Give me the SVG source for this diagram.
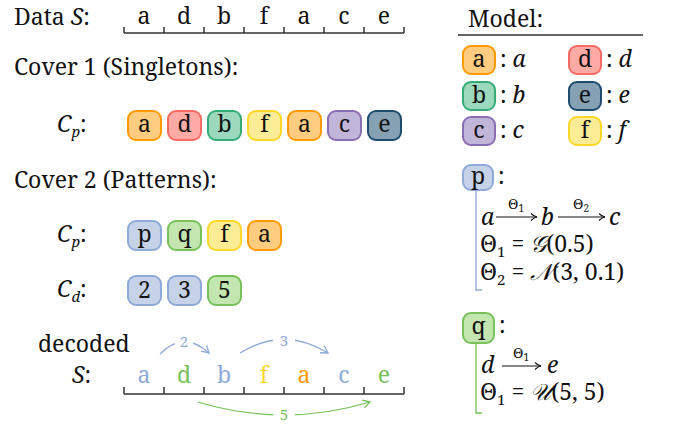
<svg xmlns="http://www.w3.org/2000/svg" width="678" height="424" viewBox="0 0 678 424" font-family="'Noto Serif','DejaVu Serif',serif">
<style>
text{font-family:'Noto Serif','DejaVu Serif',serif;fill:#111}
.t{font-size:23px}
.b{font-size:23px;text-anchor:middle}
.s{font-size:23px;text-anchor:middle}
.i{font-style:italic}
.sub{font-size:15px}
.ax{stroke:#333;stroke-width:1.5;fill:none}
.sm{font-size:15px}
.th{font-size:14px;text-anchor:middle}
.bx{stroke-width:2}
.oa{fill:#ffcc80;stroke:#ff9a00}
.od{fill:#ffaaa5;stroke:#f56a62}
.ob{fill:#9cd8bb;stroke:#35ab76}
.of{fill:#fcec95;stroke:#fbd727}
.oc{fill:#c1b5d9;stroke:#8a6eb3}
.oe{fill:#86a1b3;stroke:#1c4d6e}
.op{fill:#c5d2e8;stroke:#8eaad8}
.oq{fill:#c3e5b0;stroke:#77c159}
.cb{fill:#8eaad8}.cg{fill:#77c159}.cy{fill:#f7d72a}.co{fill:#ff9a00}
.lb{stroke:#8eaad8;stroke-width:1.3;fill:none}
.lg{stroke:#77c159;stroke-width:1.3;fill:none}
.ar{stroke:#111;stroke-width:1.2;fill:none}
</style>
<defs>
<marker id="mb" markerWidth="10" markerHeight="10" refX="8" refY="5" orient="auto" markerUnits="userSpaceOnUse"><path d="M1,1 L8,5 L1,9" fill="none" stroke="#8eaad8" stroke-width="1.3"/></marker>
<marker id="mg" markerWidth="10" markerHeight="10" refX="8" refY="5" orient="auto" markerUnits="userSpaceOnUse"><path d="M1,1 L8,5 L1,9" fill="none" stroke="#77c159" stroke-width="1.3"/></marker>
<marker id="mk" markerWidth="10" markerHeight="10" refX="8" refY="5" orient="auto" markerUnits="userSpaceOnUse"><path d="M2,1.5 Q5,4.5 8,5 Q5,5.5 2,8.5" fill="none" stroke="#111" stroke-width="1.1"/></marker>
</defs>

<g id="data">
<text class="t" x="14" y="25">Data <tspan class="i">S</tspan>:</text>
<path class="ax" d="M124,33 H404 M124,27 V33 M164,27 V33 M204,27 V33 M244,27 V33 M284,27 V33 M324,27 V33 M364,27 V33 M404,27 V33"/>
<text class="s" x="144" y="24">a</text><text class="s" x="184" y="24">d</text><text class="s" x="224" y="24">b</text><text class="s" x="264" y="24">f</text><text class="s" x="304" y="24">a</text><text class="s" x="344" y="24">c</text><text class="s" x="384" y="24">e</text>
</g>

<g id="cover1">
<text class="t" x="14" y="75">Cover 1 (Singletons):</text>
<text class="t" x="57" y="132"><tspan class="i">C</tspan><tspan class="sub i" dy="5">p</tspan><tspan dy="-5">:</tspan></text>
<rect class="bx oa" x="128" y="111" width="33" height="29" rx="8"/><text class="b" x="144.5" y="132">a</text>
<rect class="bx od" x="168" y="111" width="33" height="29" rx="8"/><text class="b" x="184.5" y="132">d</text>
<rect class="bx ob" x="208" y="111" width="33" height="29" rx="8"/><text class="b" x="224.5" y="132">b</text>
<rect class="bx of" x="248" y="111" width="33" height="29" rx="8"/><text class="b" x="264.5" y="132">f</text>
<rect class="bx oa" x="288" y="111" width="33" height="29" rx="8"/><text class="b" x="304.5" y="132">a</text>
<rect class="bx oc" x="328" y="111" width="33" height="29" rx="8"/><text class="b" x="344.5" y="132">c</text>
<rect class="bx oe" x="368" y="111" width="33" height="29" rx="8"/><text class="b" x="384.5" y="132">e</text>
</g>

<g id="cover2">
<text class="t" x="14" y="188">Cover 2 (Patterns):</text>
<text class="t" x="57" y="242"><tspan class="i">C</tspan><tspan class="sub i" dy="5">p</tspan><tspan dy="-5">:</tspan></text>
<rect class="bx op" x="128" y="221" width="33" height="29" rx="8"/><text class="b" x="144.5" y="242">p</text>
<rect class="bx oq" x="168" y="221" width="33" height="29" rx="8"/><text class="b" x="184.5" y="242">q</text>
<rect class="bx of" x="208" y="221" width="33" height="29" rx="8"/><text class="b" x="224.5" y="242">f</text>
<rect class="bx oa" x="248" y="221" width="33" height="29" rx="8"/><text class="b" x="264.5" y="242">a</text>
<text class="t" x="57" y="297"><tspan class="i">C</tspan><tspan class="sub i" dy="5">d</tspan><tspan dy="-5">:</tspan></text>
<rect class="bx op" x="128" y="276" width="33" height="29" rx="8"/><text class="b" x="144.5" y="298">2</text>
<rect class="bx op" x="168" y="276" width="33" height="29" rx="8"/><text class="b" x="184.5" y="298">3</text>
<rect class="bx oq" x="208" y="276" width="33" height="29" rx="8"/><text class="b" x="224.5" y="298">5</text>
</g>

<g id="decoded">
<text class="t" x="38" y="352">decoded</text>
<text class="t" x="72" y="383"><tspan class="i">S</tspan>:</text>
<path class="ax" d="M124,394 H404 M124,387 V394 M164,387 V394 M204,387 V394 M244,387 V394 M284,387 V394 M324,387 V394 M364,387 V394 M404,387 V394"/>
<text class="s cb" x="144" y="383">a</text><text class="s cg" x="184" y="383">d</text><text class="s cb" x="224" y="383">b</text><text class="s cy" x="264" y="383">f</text><text class="s co" x="304" y="383">a</text><text class="s cb" x="344" y="383">c</text><text class="s cg" x="384" y="383">e</text>
</g>

<g id="connectors">
<path class="lb" d="M160,354 Q184,330 209,353" marker-end="url(#mb)"/>
<rect x="175" y="333" width="18" height="18" fill="#fff"/>
<text class="sm cb" x="184" y="347" text-anchor="middle">2</text>
<path class="lb" d="M240,353 Q284,326 328,353" marker-end="url(#mb)"/>
<rect x="273" y="332" width="22" height="18" fill="#fff"/>
<text class="sm cb" x="284" y="346" text-anchor="middle">3</text>
<path class="lg" d="M198,402 Q284,428 370,402" marker-end="url(#mg)"/>
<rect x="273" y="406" width="22" height="16" fill="#fff"/>
<text class="sm cg" x="284" y="420" text-anchor="middle">5</text>
</g>

<g id="model">
<text class="t" x="468" y="27">Model:</text>
<path class="ax" d="M458,35 H643"/>
<rect class="bx oa" x="463" y="46" width="32" height="28" rx="8"/><text class="b" x="479" y="67">a</text><text class="t" x="500" y="67">: <tspan class="i">a</tspan></text>
<rect class="bx od" x="569" y="46" width="32" height="28" rx="8"/><text class="b" x="585" y="67">d</text><text class="t" x="606" y="67">: <tspan class="i">d</tspan></text>
<rect class="bx ob" x="463" y="82" width="32" height="28" rx="8"/><text class="b" x="479" y="103">b</text><text class="t" x="500" y="103">: <tspan class="i">b</tspan></text>
<rect class="bx oe" x="569" y="82" width="32" height="28" rx="8"/><text class="b" x="585" y="103">e</text><text class="t" x="606" y="103">: <tspan class="i">e</tspan></text>
<rect class="bx oc" x="463" y="117" width="32" height="28" rx="8"/><text class="b" x="479" y="138">c</text><text class="t" x="500" y="138">: <tspan class="i">c</tspan></text>
<rect class="bx of" x="569" y="117" width="32" height="28" rx="8"/><text class="b" x="585" y="138">f</text><text class="t" x="606" y="138">: <tspan class="i">f</tspan></text>
</g>

<g id="pattern-p">
<path class="lb" d="M476,190 V290 H482"/>
<rect class="bx op" x="463" y="165" width="30" height="25" rx="8"/><text class="b" x="478" y="184">p</text>
<text class="t" x="498" y="184">:</text>
<text class="t i" x="481" y="225">a</text>
<path class="ar" d="M496,217 H537" marker-end="url(#mk)"/>
<text class="th" x="516" y="209">Θ<tspan font-size="10" dy="3">1</tspan></text>
<text class="t i" x="541" y="225">b</text>
<path class="ar" d="M558,217 H605" marker-end="url(#mk)"/>
<text class="th" x="581" y="209">Θ<tspan font-size="10" dy="3">2</tspan></text>
<text class="t i" x="609" y="225">c</text>
<text class="t" x="480" y="252">Θ<tspan class="sub" dy="5">1</tspan><tspan dy="-5"> = </tspan><tspan class="i">𝒢</tspan>(0.5)</text>
<text class="t" x="480" y="280">Θ<tspan class="sub" dy="5">2</tspan><tspan dy="-5"> = </tspan><tspan class="i">𝒩</tspan>(3, 0.1)</text>
</g>

<g id="pattern-q">
<path class="lg" d="M476,343 V413 H482"/>
<rect class="bx oq" x="463" y="313" width="31" height="30" rx="8"/><text class="b" x="478.5" y="334">q</text>
<text class="t" x="499" y="333">:</text>
<text class="t i" x="481" y="373">d</text>
<path class="ar" d="M502,366 H541" marker-end="url(#mk)"/>
<text class="th" x="521" y="358">Θ<tspan font-size="10" dy="3">1</tspan></text>
<text class="t i" x="547" y="373">e</text>
<text class="t" x="480" y="400">Θ<tspan class="sub" dy="5">1</tspan><tspan dy="-5"> = </tspan><tspan class="i">𝒰</tspan>(5, 5)</text>
</g>
</svg>
